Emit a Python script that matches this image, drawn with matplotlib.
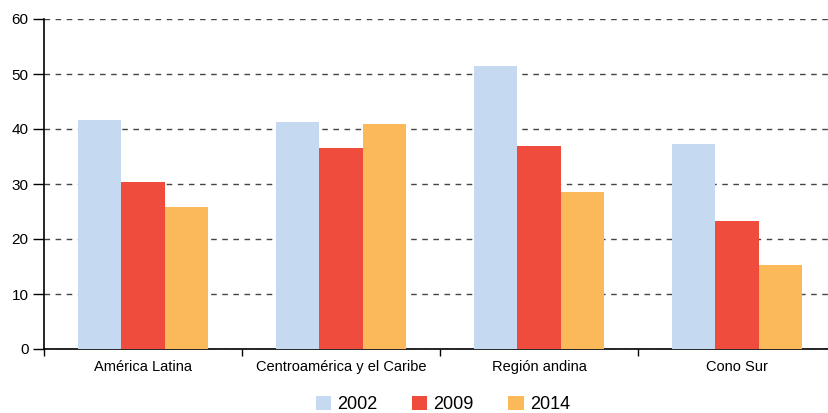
import matplotlib
matplotlib.use("Agg")
import matplotlib.pyplot as plt
import numpy as np

plt.rcParams['font.family'] = ['Liberation Sans', 'DejaVu Sans']

categories = ["América Latina", "Centroamérica y el Caribe", "Región andina", "Cono Sur"]
years = ["2002", "2009", "2014"]
v2002 = [41.6, 41.3, 51.5, 37.3]
v2009 = [30.4, 36.6, 36.9, 23.3]
v2014 = [25.8, 41.0, 28.5, 15.2]
colors = ["#c5d9f0", "#f04c3e", "#fcb95a"]

fig = plt.figure(figsize=(8.29, 4.13), dpi=100)
ax = fig.add_axes([44 / 829, 64 / 413, 785 / 829, 330 / 413])

x = np.arange(len(categories))
w = 0.22
for i, (vals, c, lab) in enumerate(zip([v2002, v2009, v2014], colors, years)):
    ax.bar(x + (i - 1) * w, vals, w, color=c, label=lab, zorder=3)

ax.set_ylim(0, 60)
ax.set_xlim(-0.5, 3.5 - 7 / 198)
ax.set_yticks(range(0, 61, 10))
ax.yaxis.grid(True, linestyle=(0, (4, 4)), color="#444444", linewidth=1, zorder=0)

ax.set_xticks(np.arange(-0.5, 3.5, 1.0))
ax.set_xticklabels([])
ax.set_xticks(x, minor=True)
ax.set_xticklabels(categories, minor=True, fontsize=10.5)
ax.tick_params(axis='x', which='minor', length=0, pad=8)
ax.tick_params(axis='x', which='major', length=5, width=1, direction='out')
ax.tick_params(axis='y', length=8, width=1, labelsize=11, pad=3)

for s in ["top", "right"]:
    ax.spines[s].set_visible(False)
ax.spines["left"].set_linewidth(1.2)
ax.spines["bottom"].set_linewidth(1.2)

ax.legend(loc="center", bbox_to_anchor=(0.508, -0.168), ncol=3, frameon=False,
          fontsize=13, handlelength=0.85, handleheight=0.85, columnspacing=1.9,
          handletextpad=0.35, borderpad=0)

fig.savefig("out.png", dpi=100)
